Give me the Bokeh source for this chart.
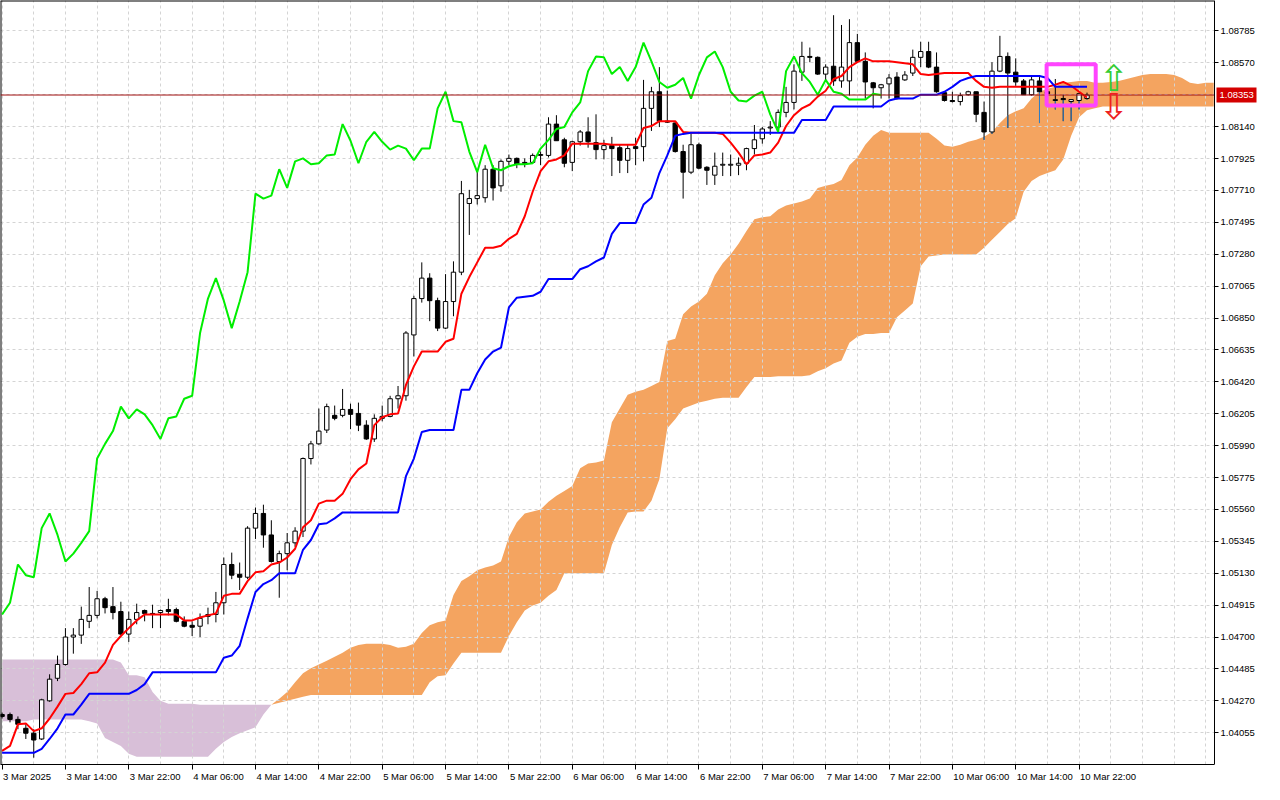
import numpy as np
from bokeh.plotting import figure
from bokeh.models import Range1d, FixedTicker, LinearAxis, BoxAnnotation, NumeralTickFormatter
from bokeh.embed import file_html
from bokeh.resources import INLINE
from bokeh.core.properties import value

# ---------------- data (EURUSD H1) ----------------
opens = [
    1.04178, 1.04178, 1.04145, 1.04085, 1.04052, 1.04013, 1.04270, 1.04422, 1.04515, 1.04700,
    1.04713, 1.04806, 1.04846, 1.04958, 1.04905, 1.04872, 1.04720, 1.04819, 1.04879, 1.04859,
    1.04865, 1.04885, 1.04885, 1.04806, 1.04779, 1.04773, 1.04839, 1.04852, 1.04931, 1.05189,
    1.05123, 1.05103, 1.05434, 1.05533, 1.05388, 1.05209, 1.05262, 1.05335, 1.05414, 1.05903,
    1.06002, 1.06095, 1.06194, 1.06194, 1.06234, 1.06207, 1.06128, 1.06035, 1.06174, 1.06187,
    1.06306, 1.06326, 1.06736, 1.06981, 1.07119, 1.06967, 1.06782, 1.06961, 1.07159, 1.07622,
    1.07655, 1.07661, 1.07853, 1.07741, 1.07906, 1.07926, 1.07899, 1.07899, 1.07946, 1.07946,
    1.08157, 1.08051, 1.07899, 1.08038, 1.08104, 1.08032, 1.07985, 1.08012, 1.07998, 1.07913,
    1.08005, 1.08005, 1.08263, 1.08375, 1.08177, 1.08164, 1.07972, 1.07833, 1.08018, 1.07866,
    1.07813, 1.07880, 1.07880, 1.07880, 1.07893, 1.07992, 1.08058, 1.08131, 1.08137, 1.08236,
    1.08303, 1.08507, 1.08613, 1.08607, 1.08494, 1.08547, 1.08448, 1.08448, 1.08706, 1.08580,
    1.08435, 1.08402, 1.08428, 1.08474, 1.08455, 1.08501, 1.08607, 1.08646, 1.08541, 1.08369,
    1.08316, 1.08309, 1.08355, 1.08375, 1.08236, 1.08104, 1.08514, 1.08613, 1.08507, 1.08448,
    1.08355, 1.08448, 1.08375, 1.08316, 1.08329, 1.08309, 1.08316, 1.08329,
]
highs = [
    1.04191, 1.04191, 1.04165, 1.04112, 1.04079, 1.04284, 1.04449, 1.04575, 1.04760, 1.04760,
    1.04905, 1.05037, 1.05011, 1.04971, 1.05037, 1.04938, 1.04872, 1.04925, 1.04885, 1.04918,
    1.04885, 1.04958, 1.04898, 1.04839, 1.04806, 1.04859, 1.04898, 1.05004, 1.05236, 1.05269,
    1.05202, 1.05447, 1.05573, 1.05592, 1.05487, 1.05282, 1.05401, 1.05440, 1.05910, 1.06022,
    1.06240, 1.06273, 1.06260, 1.06372, 1.06273, 1.06280, 1.06161, 1.06201, 1.06260, 1.06326,
    1.06392, 1.06762, 1.07000, 1.07225, 1.07152, 1.06987, 1.07146, 1.07232, 1.07774, 1.07714,
    1.07840, 1.07880, 1.07880, 1.07919, 1.07952, 1.07932, 1.07926, 1.07959, 1.07972, 1.08203,
    1.08217, 1.08065, 1.08045, 1.08117, 1.08203, 1.08223, 1.08051, 1.08071, 1.08018, 1.08018,
    1.08065, 1.08455, 1.08408, 1.08541, 1.08382, 1.08177, 1.08018, 1.08098, 1.08032, 1.07873,
    1.07965, 1.07965, 1.07952, 1.07932, 1.07998, 1.08151, 1.08137, 1.08177, 1.08256, 1.08408,
    1.08560, 1.08712, 1.08673, 1.08613, 1.08560, 1.08891, 1.08825, 1.08864, 1.08765, 1.08640,
    1.08441, 1.08428, 1.08494, 1.08507, 1.08514, 1.08659, 1.08712, 1.08712, 1.08640, 1.08375,
    1.08375, 1.08369, 1.08382, 1.08375, 1.08309, 1.08574, 1.08752, 1.08640, 1.08600, 1.08461,
    1.08481, 1.08474, 1.08408, 1.08461, 1.08355, 1.08322, 1.08362, 1.08369,
]
lows = [
    1.04151, 1.04125, 1.04079, 1.04013, 1.03887, 1.04006, 1.04264, 1.04403, 1.04508, 1.04588,
    1.04654, 1.04760, 1.04826, 1.04859, 1.04819, 1.04713, 1.04667, 1.04786, 1.04806, 1.04760,
    1.04760, 1.04846, 1.04799, 1.04766, 1.04707, 1.04700, 1.04786, 1.04799, 1.04852, 1.05090,
    1.05017, 1.05090, 1.05361, 1.05302, 1.05202, 1.04965, 1.05150, 1.05308, 1.05374, 1.05863,
    1.05996, 1.06075, 1.06161, 1.06181, 1.06101, 1.06088, 1.06029, 1.06015, 1.06154, 1.06181,
    1.06240, 1.06293, 1.06591, 1.06954, 1.06829, 1.06762, 1.06776, 1.06862, 1.07139, 1.07410,
    1.07615, 1.07628, 1.07642, 1.07701, 1.07880, 1.07860, 1.07866, 1.07893, 1.07880, 1.07932,
    1.08045, 1.07866, 1.07840, 1.08012, 1.07998, 1.07919, 1.07919, 1.07807, 1.07827, 1.07827,
    1.07880, 1.07906, 1.08111, 1.08137, 1.08164, 1.07965, 1.07655, 1.07820, 1.07853, 1.07747,
    1.07747, 1.07807, 1.07807, 1.07813, 1.07846, 1.07952, 1.08025, 1.08084, 1.08111, 1.08203,
    1.08256, 1.08448, 1.08574, 1.08488, 1.08441, 1.08415, 1.08402, 1.08349, 1.08580, 1.08329,
    1.08263, 1.08329, 1.08329, 1.08322, 1.08448, 1.08481, 1.08541, 1.08534, 1.08369, 1.08309,
    1.08303, 1.08283, 1.08349, 1.08170, 1.08051, 1.08091, 1.08507, 1.08131, 1.08415, 1.08355,
    1.08349, 1.08164, 1.08303, 1.08256, 1.08177, 1.08177, 1.08256, 1.08322,
]
closes = [
    1.04165, 1.04145, 1.04112, 1.04052, 1.04006, 1.04277, 1.04416, 1.04515, 1.04700, 1.04713,
    1.04819, 1.04846, 1.04958, 1.04898, 1.04865, 1.04720, 1.04819, 1.04865, 1.04859, 1.04852,
    1.04879, 1.04872, 1.04806, 1.04773, 1.04766, 1.04826, 1.04852, 1.04931, 1.05189, 1.05117,
    1.05103, 1.05434, 1.05533, 1.05388, 1.05209, 1.05262, 1.05335, 1.05414, 1.05903, 1.06002,
    1.06088, 1.06253, 1.06174, 1.06234, 1.06201, 1.06128, 1.06035, 1.06174, 1.06187, 1.06306,
    1.06326, 1.06749, 1.06981, 1.07119, 1.06967, 1.06782, 1.06961, 1.07159, 1.07688, 1.07655,
    1.07675, 1.07853, 1.07727, 1.07906, 1.07926, 1.07886, 1.07893, 1.07946, 1.07952, 1.08157,
    1.08045, 1.07893, 1.08038, 1.08104, 1.08038, 1.07985, 1.08012, 1.07992, 1.07913, 1.07992,
    1.07992, 1.08263, 1.08375, 1.08177, 1.08170, 1.07972, 1.07833, 1.08018, 1.07860, 1.07846,
    1.07873, 1.07886, 1.07886, 1.07893, 1.07992, 1.08051, 1.08124, 1.08137, 1.08236, 1.08303,
    1.08514, 1.08613, 1.08607, 1.08494, 1.08541, 1.08448, 1.08541, 1.08706, 1.08580, 1.08441,
    1.08402, 1.08422, 1.08468, 1.08329, 1.08488, 1.08607, 1.08646, 1.08541, 1.08375, 1.08316,
    1.08309, 1.08349, 1.08375, 1.08223, 1.08104, 1.08514, 1.08613, 1.08501, 1.08441, 1.08355,
    1.08455, 1.08375, 1.08362, 1.08322, 1.08322, 1.08322, 1.08362, 1.08353,
]
tenkan = [
    1.03933, 1.03966, 1.04112, 1.04118, 1.04066, 1.04085, 1.04151, 1.04231, 1.04317, 1.04323,
    1.04383, 1.04456, 1.04462, 1.04528, 1.04647, 1.04707, 1.04760, 1.04812, 1.04852, 1.04852,
    1.04852, 1.04852, 1.04852, 1.04812, 1.04812, 1.04832, 1.04846, 1.04859, 1.04978, 1.04991,
    1.04991, 1.05077, 1.05136, 1.05143, 1.05189, 1.05202, 1.05236, 1.05295, 1.05440, 1.05487,
    1.05599, 1.05619, 1.05619, 1.05665, 1.05764, 1.05830, 1.05870, 1.06128, 1.06181, 1.06201,
    1.06207, 1.06399, 1.06524, 1.06624, 1.06624, 1.06624, 1.06690, 1.06710, 1.07014, 1.07126,
    1.07225, 1.07324, 1.07324, 1.07337, 1.07384, 1.07417, 1.07536, 1.07701, 1.07840, 1.07906,
    1.07919, 1.07946, 1.08025, 1.08025, 1.08025, 1.08025, 1.08025, 1.08018, 1.08018, 1.08018,
    1.08018, 1.08131, 1.08144, 1.08177, 1.08177, 1.08177, 1.08104, 1.08098, 1.08098, 1.08098,
    1.08098, 1.08091, 1.08032, 1.07965, 1.07886, 1.07946, 1.07952, 1.07965, 1.08032, 1.08144,
    1.08217, 1.08263, 1.08289, 1.08342, 1.08382, 1.08461, 1.08481, 1.08541, 1.08574, 1.08600,
    1.08580, 1.08580, 1.08580, 1.08574, 1.08567, 1.08560, 1.08494, 1.08488, 1.08494, 1.08501,
    1.08501, 1.08501, 1.08501, 1.08448, 1.08408, 1.08402, 1.08408, 1.08408, 1.08408, 1.08408,
    1.08408, 1.08408, 1.08408, 1.08422, 1.08441, 1.08415, 1.08375, 1.08336,
]
kijun = [
    1.03920, 1.03920, 1.03920, 1.03920, 1.03920, 1.03947, 1.04013, 1.04085, 1.04178, 1.04178,
    1.04244, 1.04317, 1.04317, 1.04317, 1.04317, 1.04317, 1.04317, 1.04343, 1.04383, 1.04462,
    1.04462, 1.04462, 1.04462, 1.04462, 1.04462, 1.04462, 1.04462, 1.04462, 1.04561, 1.04575,
    1.04641, 1.04826, 1.05004, 1.05057, 1.05083, 1.05130, 1.05130, 1.05130, 1.05288, 1.05354,
    1.05460, 1.05467, 1.05500, 1.05540, 1.05540, 1.05540, 1.05540, 1.05540, 1.05540, 1.05540,
    1.05540, 1.05784, 1.05903, 1.06082, 1.06095, 1.06095, 1.06095, 1.06095, 1.06366, 1.06366,
    1.06478, 1.06571, 1.06624, 1.06650, 1.06921, 1.06987, 1.06994, 1.07000, 1.07027, 1.07113,
    1.07113, 1.07113, 1.07113, 1.07179, 1.07199, 1.07232, 1.07258, 1.07417, 1.07490, 1.07490,
    1.07490, 1.07615, 1.07661, 1.07827, 1.07946, 1.08078, 1.08091, 1.08098, 1.08098, 1.08098,
    1.08098, 1.08098, 1.08098, 1.08098, 1.08098, 1.08098, 1.08098, 1.08098, 1.08098, 1.08098,
    1.08098, 1.08184, 1.08184, 1.08184, 1.08184, 1.08276, 1.08276, 1.08276, 1.08276, 1.08276,
    1.08276, 1.08276, 1.08316, 1.08329, 1.08329, 1.08329, 1.08355, 1.08355, 1.08355, 1.08375,
    1.08408, 1.08448, 1.08468, 1.08481, 1.08481, 1.08481, 1.08481, 1.08481, 1.08481, 1.08481,
    1.08481, 1.08481, 1.08468, 1.08408, 1.08408, 1.08408, 1.08408, 1.08408,
]
# Senkou spans, already displaced 26 bars forward (index = bar on the chart)
senkou_a = [
    1.04132, 1.04132, 1.04132, 1.04132, 1.04145, 1.04145, 1.04145, 1.04145, 1.04145, 1.04145,
    1.04145, 1.04132, 1.04118, 1.04019, 1.03993, 1.03966, 1.03914, 1.03894, 1.03894, 1.03894,
    1.03894, 1.03894, 1.03894, 1.03894, 1.03894, 1.03894, 1.03894, 1.03947, 1.03993, 1.04026,
    1.04052, 1.04072, 1.04092, 1.04178, 1.04244, 1.04284, 1.04330, 1.04396, 1.04456, 1.04489,
    1.04515, 1.04541, 1.04568, 1.04594, 1.04627, 1.04647, 1.04654, 1.04654, 1.04654, 1.04647,
    1.04627, 1.04634, 1.04654, 1.04727, 1.04779, 1.04799, 1.04812, 1.04984, 1.05077, 1.05110,
    1.05150, 1.05169, 1.05183, 1.05209, 1.05374, 1.05473, 1.05533, 1.05546, 1.05559, 1.05612,
    1.05652, 1.05685, 1.05718, 1.05837, 1.05870, 1.05877, 1.05890, 1.06148, 1.06240, 1.06333,
    1.06353, 1.06366, 1.06392, 1.06419, 1.06696, 1.06710, 1.06875, 1.06928, 1.06961, 1.07014,
    1.07139, 1.07219, 1.07278, 1.07351, 1.07437, 1.07516, 1.07529, 1.07536, 1.07582, 1.07609,
    1.07622, 1.07635, 1.07655, 1.07727, 1.07741, 1.07754, 1.07780, 1.07880, 1.07932, 1.08018,
    1.08078, 1.08117, 1.08098, 1.08098, 1.08098, 1.08098, 1.08098, 1.08098, 1.08058, 1.08012,
    1.08005, 1.08018, 1.08038, 1.08051, 1.08071, 1.08104, 1.08164, 1.08217, 1.08243, 1.08263,
    1.08329, 1.08375, 1.08395, 1.08408, 1.08435, 1.08441, 1.08448, 1.08448, 1.08435, 1.08435,
    1.08441, 1.08448, 1.08461, 1.08474, 1.08488, 1.08494, 1.08494, 1.08494, 1.08488, 1.08468,
    1.08435, 1.08428, 1.08435, 1.08435,
]
senkou_b = [
    1.04548, 1.04548, 1.04548, 1.04548, 1.04548, 1.04548, 1.04548, 1.04548, 1.04548, 1.04548,
    1.04548, 1.04548, 1.04548, 1.04548, 1.04548, 1.04528, 1.04442, 1.04442, 1.04429, 1.04330,
    1.04270, 1.04251, 1.04251, 1.04251, 1.04251, 1.04244, 1.04244, 1.04244, 1.04244, 1.04244,
    1.04244, 1.04244, 1.04244, 1.04244, 1.04244, 1.04257, 1.04270, 1.04284, 1.04297, 1.04310,
    1.04310, 1.04310, 1.04310, 1.04310, 1.04310, 1.04310, 1.04310, 1.04310, 1.04310, 1.04310,
    1.04310, 1.04310, 1.04310, 1.04310, 1.04396, 1.04436, 1.04442, 1.04522, 1.04594, 1.04594,
    1.04594, 1.04594, 1.04594, 1.04594, 1.04707, 1.04799, 1.04879, 1.04912, 1.04931, 1.04978,
    1.05017, 1.05130, 1.05130, 1.05130, 1.05130, 1.05130, 1.05130, 1.05321, 1.05440, 1.05540,
    1.05546, 1.05546, 1.05619, 1.05764, 1.06108, 1.06168, 1.06240, 1.06260, 1.06280, 1.06293,
    1.06306, 1.06313, 1.06313, 1.06313, 1.06386, 1.06452, 1.06452, 1.06452, 1.06458, 1.06458,
    1.06458, 1.06458, 1.06465, 1.06491, 1.06511, 1.06544, 1.06563, 1.06683, 1.06723, 1.06742,
    1.06742, 1.06749, 1.06749, 1.06855, 1.06901, 1.06948, 1.07199, 1.07264, 1.07271, 1.07278,
    1.07278, 1.07278, 1.07278, 1.07278, 1.07324, 1.07377, 1.07430, 1.07483, 1.07523, 1.07701,
    1.07774, 1.07807, 1.07827, 1.07846, 1.07919, 1.08078, 1.08203, 1.08250, 1.08263, 1.08276,
    1.08276, 1.08276, 1.08276, 1.08276, 1.08276, 1.08276, 1.08276, 1.08276, 1.08276, 1.08276,
    1.08276, 1.08276, 1.08276, 1.08276,
]
chikou_shift = 26
current_price = 1.08353

x_tick_bars = [0, 8, 16, 24, 32, 40, 48, 56, 64, 72, 80, 88, 96, 104, 112, 120, 128, 136]
x_tick_labels = ["3 Mar 2025", "3 Mar 14:00", "3 Mar 22:00", "4 Mar 06:00", "4 Mar 14:00",
                 "4 Mar 22:00", "5 Mar 06:00", "5 Mar 14:00", "5 Mar 22:00", "6 Mar 06:00",
                 "6 Mar 14:00", "6 Mar 22:00", "7 Mar 06:00", "7 Mar 14:00", "7 Mar 22:00",
                 "10 Mar 06:00", "10 Mar 14:00", "10 Mar 22:00"]
y_ticks = [1.04055, 1.04270, 1.04485, 1.04700, 1.04915, 1.05130, 1.05345, 1.05560, 1.05775,
           1.05990, 1.06205, 1.06420, 1.06635, 1.06850, 1.07065, 1.07280, 1.07495, 1.07710,
           1.07925, 1.08140, 1.08355, 1.08570, 1.08785]
y_tick_hidden = 1.08355          # covered on the scale by the current-price tag
x_grid_step_bars = 4

# chart objects drawn by the trader
box_bars = (131.9, 138.1)
box_prices = (1.08283, 1.08560)
arrow_bar = 140.4
arrow_up_price = 1.08461
arrow_down_price = 1.08274

# ---------------- geometry ----------------
X0, AXIS_X = -0.2, 153.1           # visible bars; the price scale sits at AXIS_X
Y0, Y1 = 1.03841, 1.08990
W, H = 1264, 784
CHART_W = 1214                     # pixels from the left edge to the price scale
BOTTOM = 20
FONT = "Liberation Sans"
FS = 9.5
px_per_bar = CHART_W / (AXIS_X - X0)
XR = X0 + W / px_per_bar           # the frame also holds the price-scale labels
py_per_unit = (H - BOTTOM) / (Y1 - Y0)

p = figure(width=W, height=H, output_backend="svg", toolbar_location=None,
           x_range=Range1d(X0, XR), y_range=Range1d(Y0, Y1),
           x_axis_location="below", y_axis_location="right",
           min_border_left=0, min_border_top=0, min_border_right=0, min_border_bottom=BOTTOM)
p.background_fill_color = "white"
p.border_fill_color = "white"
p.outline_line_color = None

# grids (limited to the chart area)
p.xgrid.ticker = FixedTicker(ticks=list(range(0, int(AXIS_X), x_grid_step_bars)))
p.ygrid.ticker = FixedTicker(ticks=y_ticks)
for g in (p.xgrid[0], p.ygrid[0]):
    g.grid_line_color = "#d4d4d4"
    g.grid_line_dash = "3 3"
    g.grid_line_width = 1
try:
    p.ygrid[0].cross_bounds = (X0, AXIS_X)
except Exception:
    p.add_layout(BoxAnnotation(left=AXIS_X, fill_color="white", fill_alpha=1.0,
                               line_color=None, level="underlay"))

# price scale, drawn at the right edge of the chart area
ya = p.yaxis[0]
ya.fixed_location = AXIS_X
ya.ticker = FixedTicker(ticks=[t for t in y_ticks if abs(t - y_tick_hidden) > 1e-9])
ya.formatter = NumeralTickFormatter(format="0.00000")
ya.major_tick_out = 4
ya.major_tick_in = 0
ya.minor_tick_line_color = None
ya.major_label_standoff = 2
ya.axis_line_color = "black"
ya.major_tick_line_color = "black"
ya.major_label_text_font = FONT
ya.major_label_text_font_size = f"{FS}px"
ya.major_label_text_color = "black"

# bottom: tick marks at the bar positions (labels not painted)
xa = p.xaxis[0]
xa.bounds = (X0, AXIS_X)
xa.ticker = FixedTicker(ticks=x_tick_bars)
xa.major_label_text_font_size = "1px"
xa.major_label_text_color = None
xa.major_label_standoff = 0
xa.major_tick_out = 5
xa.major_tick_in = 0
xa.minor_tick_line_color = None
xa.axis_line_color = "black"
xa.major_tick_line_color = "black"

# bottom: left-aligned date labels (centre shifted by half the text width)
em = {c: 0.556 for c in "0123456789"}
em.update({" ": 0.278, ":": 0.278, "M": 0.833, "a": 0.556, "r": 0.333})
label_pos = []
for b, s in zip(x_tick_bars, x_tick_labels):
    wpx = sum(em.get(ch, 0.556) for ch in s) * FS
    label_pos.append(round(b + (wpx / 2 + 1) / px_per_bar, 4))
la = LinearAxis(ticker=FixedTicker(ticks=label_pos),
                major_label_overrides={pos: s for pos, s in zip(label_pos, x_tick_labels)})
la.axis_line_color = None
la.major_tick_line_color = None
la.minor_tick_line_color = None
la.major_tick_out = 0
la.major_tick_in = 0
la.major_label_standoff = 1
la.major_label_text_font = FONT
la.major_label_text_font_size = f"{FS}px"
la.major_label_text_color = "black"
p.add_layout(la, "below")

# chart border (left and top)
p.segment(x0=[X0, X0], y0=[Y0, Y1], x1=[X0, AXIS_X], y1=[Y1, Y1],
          line_color="black", line_width=2)

# ---------------- Ichimoku cloud ----------------
sa = np.array(senkou_a)
sb = np.array(senkou_b)
xc = np.arange(len(sa))
bull = sa >= sb
k = 0
Nc = len(sa)
while k < Nc - 1:
    s = k
    col = bull[k]
    while k < Nc - 1 and bull[k + 1] == col:
        k += 1
    e = min(k + 1, Nc - 1)
    p.varea(x=xc[s:e + 1], y1=sa[s:e + 1], y2=sb[s:e + 1],
            fill_color="#F4A460" if col else "#D8BFD8", level="image")
    k += 1

# ---------------- candles ----------------
o = np.array(opens); h = np.array(highs); l = np.array(lows); c = np.array(closes)
idx = np.arange(len(c))
up = c >= o
dn = ~up
p.segment(x0=idx, y0=h, x1=idx, y1=l, line_color="black", line_width=1)

# lower-wick parts lying inside the orange cloud show up blue on the terminal
n = len(c)
cl_top = np.maximum(sa[:n], sb[:n])
cl_bot = np.minimum(sa[:n], sb[:n])
body_lo = np.minimum(o, c)
wy1 = np.minimum(body_lo, cl_top)
wy0 = np.maximum(l, cl_bot)
inside = bull[:n] & (l < cl_top) & (wy1 > wy0)
p.segment(x0=idx[inside], y0=wy0[inside], x1=idx[inside], y1=wy1[inside],
          line_color="#2f7fc8", line_width=1)

p.vbar(x=idx[up], width=0.55, top=c[up], bottom=o[up],
       fill_color="white", line_color="black", line_width=1)
p.vbar(x=idx[dn], width=0.55, top=o[dn], bottom=c[dn],
       fill_color="black", line_color="black", line_width=1)

# ---------------- Ichimoku lines ----------------
p.line(idx, tenkan, line_color="#FF0000", line_width=2)
p.line(idx, kijun, line_color="#0000FF", line_width=2)
p.line(idx[:-chikou_shift], c[chikou_shift:], line_color="#00EE00", line_width=2)

# current price line and its tag on the price scale
p.segment(x0=[X0], y0=[current_price], x1=[AXIS_X], y1=[current_price],
          line_color="#a01010", line_width=1)
tag_l = AXIS_X + 2 / px_per_bar
tag_r = AXIS_X + 42 / px_per_bar
tag_half = 7.5 / py_per_unit
p.quad(left=[tag_l], right=[tag_r], bottom=[current_price - tag_half],
       top=[current_price + tag_half], fill_color="#d40000", line_color=None)
p.text(x=[tag_l + 3 / px_per_bar], y=[current_price], text=[f"{current_price:.5f}"],
       text_color="white", text_align="left", text_baseline="middle",
       text_font=value(FONT), text_font_size=f"{FS}px")

# trader's rectangle and arrows
p.quad(left=[box_bars[0]], right=[box_bars[1]], bottom=[box_prices[0]], top=[box_prices[1]],
       fill_color=None, line_color="#FF44FF", line_width=4)
p.text(x=[arrow_bar, arrow_bar], y=[arrow_up_price, arrow_down_price], text=["⇧", "⇩"],
       text_color=["#33cc33", "#ee2020"], text_align="center", text_baseline="middle",
       text_font=value("DejaVu Sans"), text_font_size="36px")

open("out.html", "w").write(file_html(p, INLINE))
